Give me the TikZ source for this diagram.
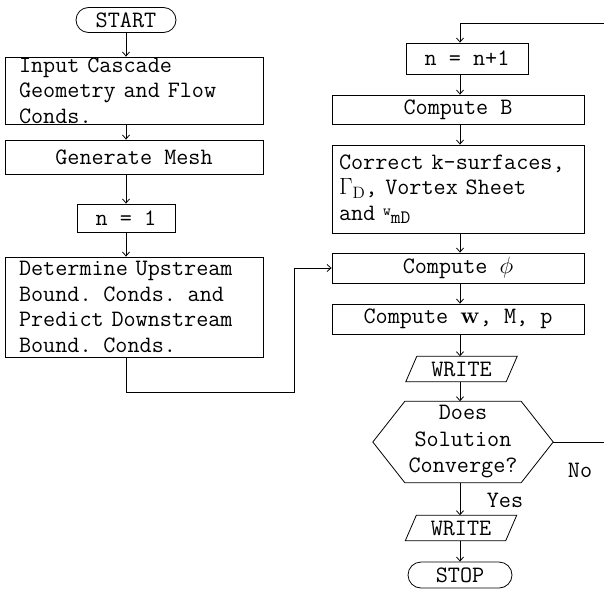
\documentclass[tikz,border=0pt]{standalone}
\usepackage{fix-cm}
\usetikzlibrary{arrows.meta,shapes.misc}

\tikzset{
  ink/.style={line width=0.8pt, black},
  flow/.style={ink, -{Straight Barb[length=4pt,width=7pt]}},
  txt/.style={font=\fontsize{23.5}{25.5}\selectfont\ttfamily},
  procbox/.style={ink, draw, txt, rectangle, inner sep=0pt},
  termbox/.style={ink, draw, txt, rounded rectangle, inner sep=0pt,
    minimum width=100pt, minimum height=25pt},
  iobox/.style={txt, inner sep=0pt, minimum width=100pt, minimum height=25pt},
  testbox/.style={txt, inner sep=0pt, minimum width=180pt, minimum height=81pt,
    align=center, font=\fontsize{23.5}{26.5}\selectfont\ttfamily}
}

\begin{document}
\begin{tikzpicture}[x=1pt,y=-1pt]
\useasboundingbox (0,0) rectangle (604,597);

% left column
\node[termbox] (start) at (126,20) {START};
\node[procbox, minimum width=258pt, minimum height=67pt, text width=230pt,
  align=left] (input) at (134,90.5) {Input Cascade\\Geometry and Flow\\Conds.};
\node[procbox, minimum width=258pt, minimum height=34pt] (mesh) at (134,157) {Generate Mesh};
\node[procbox, minimum width=98pt, minimum height=28pt] (nfirst) at (126,218) {n = 1};
\node[procbox, minimum width=258pt, minimum height=100pt, text width=230pt,
  align=left] (bound) at (134,307)
  {Determine Upstream\\Bound. Conds. and\\Predict Downstream\\Bound. Conds.};

% right column
\node[procbox, minimum width=122pt, minimum height=31pt] (incr) at (467,58.5) {n = n+1};
\node[procbox, minimum width=252pt, minimum height=29pt] (compB) at (458,109.5) {Compute B};
\node[procbox, minimum width=252pt, minimum height=88pt, text width=238pt,
  align=left] (correct) at (458,189)
  {Correct k-surfaces,\\$\Gamma_{\mathrm{D}}$, Vortex Sheet\\and
   \raisebox{.45ex}{\fontsize{15}{15}\selectfont w}\raisebox{-.3ex}{\fontsize{19}{19}\selectfont mD}};
\node[procbox, minimum width=252pt, minimum height=30pt] (compphi) at (458,268) {Compute $\phi$};
\node[procbox, minimum width=252pt, minimum height=30pt] (compw) at (458,319)
  {Compute $\mathbf{w}$, M, p};
\node[iobox] (writeA) at (461.5,369) {WRITE};
\node[testbox] (conv) at (463,442) {Does\\Solution\\Converge?};
\node[iobox] (writeB) at (461,528) {WRITE};
\node[termbox, minimum width=104pt, minimum height=26pt] (stop) at (460,575) {STOP};
\node[txt] (yes) at (505,500) {Yes};
\node[txt] (no) at (580,470) {No};

% input/output and decision outlines
\foreach \w in {writeA,writeB}
  \draw[ink] ([xshift=-5.5pt]\w.south west) -- ([xshift=5.5pt]\w.north west)
    -- ([xshift=5.5pt]\w.north east) -- ([xshift=-5.5pt]\w.south east) -- cycle;
\draw[ink] (conv.west) -- ([xshift=32pt]conv.north west) -- ([xshift=-32pt]conv.north east)
  -- (conv.east) -- ([xshift=-32pt]conv.south east) -- ([xshift=32pt]conv.south west) -- cycle;

\coordinate (jog) at (294,392);
\coordinate (back) at (612,23);

% connectors
\draw[flow] (start.south) -- (start.south |- input.north);
\draw[flow] (input.south -| start) -- (mesh.north -| start);
\draw[flow] (mesh.south -| start) -- (nfirst.north);
\draw[flow] (nfirst.south) -- (bound.north -| nfirst);
\draw[flow] (bound.south -| start) |- (jog) |- (compphi.west);

\draw[flow] (incr.south -| stop) -- (compB.north -| stop);
\draw[flow] (compB.south -| stop) -- (correct.north -| stop);
\draw[flow] (correct.south -| stop) -- (compphi.north -| stop);
\draw[flow] (compphi.south -| stop) -- (compw.north -| stop);
\draw[flow] (compw.south -| stop) -- (writeA.north -| stop);
\draw[flow] (writeA.south -| stop) -- (conv.north -| stop);
\draw[flow] (conv.south -| stop) -- (writeB.north -| stop);
\draw[flow] (writeB.south -| stop) -- (stop.north);
\draw[flow] (conv.east) -| (back) -| (incr.north -| stop);

\end{tikzpicture}
\end{document}
